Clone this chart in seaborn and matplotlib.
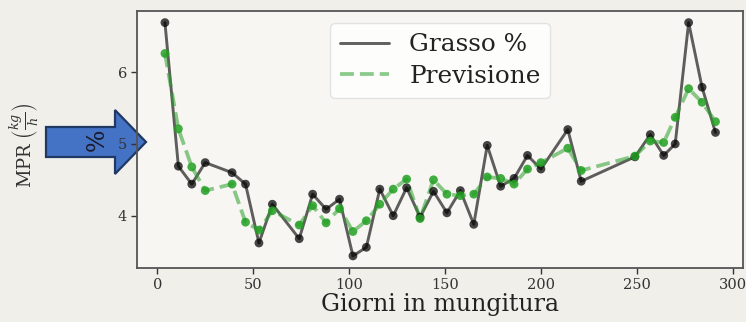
import matplotlib
matplotlib.use("Agg")
import matplotlib.pyplot as plt
import pandas as pd
import seaborn as sns
from matplotlib.patches import Polygon, Rectangle

giorni = [4, 11, 18, 25, 39, 46, 53, 60, 74, 81, 88, 95, 102, 109, 116, 123, 130, 137,
          144, 151, 158, 165, 172, 179, 186, 193, 200, 214, 221, 249, 257, 264, 270, 277, 284, 291]
grasso = [6.69, 4.69, 4.44, 4.74, 4.60, 4.44, 3.62, 4.16, 3.68, 4.30, 4.09, 4.23, 3.44, 3.56, 4.37, 4.00, 4.39, 3.98,
          4.34, 4.04, 4.35, 3.88, 4.98, 4.41, 4.52, 4.84, 4.65, 5.20, 4.48, 4.82, 5.13, 4.84, 5.00, 6.69, 5.79, 5.16]
previsione = [6.26, 5.21, 4.68, 4.35, 4.44, 3.91, 3.80, 4.07, 3.87, 4.14, 3.90, 4.10, 3.78, 3.93, 4.16, 4.37, 4.51, 3.96,
              4.50, 4.30, 4.28, 4.30, 4.54, 4.52, 4.44, 4.65, 4.74, 4.94, 4.63, 4.83, 5.04, 5.02, 5.37, 5.77, 5.58, 5.31]
xticks = [0, 50, 100, 150, 200, 250, 300]
yticks = [4, 5, 6]

df = pd.DataFrame({"giorni": giorni, "grasso": grasso, "previsione": previsione})

sns.set_style("ticks")
plt.rcParams["font.family"] = ["DejaVu Serif"]
plt.rcParams["mathtext.fontset"] = "dejavuserif"

bg = "#f1efea"
fig = plt.figure(figsize=(7.46, 3.22), dpi=100, facecolor=bg)
pos = [0.1842, 0.169, 0.8118, 0.797]
ax = fig.add_axes(pos)
# axes background drawn at figure level so the arrow can sit between it and the ticks
ax.patch.set_visible(False)
fig.add_artist(Rectangle((pos[0], pos[1]), pos[2], pos[3], transform=fig.transFigure,
                         facecolor="#f7f6f3", edgecolor="none", zorder=-2))

sns.lineplot(data=df, x="giorni", y="grasso", ax=ax, color="black", alpha=0.62,
             linewidth=2.1, label="Grasso %")
sns.scatterplot(data=df, x="giorni", y="grasso", ax=ax, color="black", alpha=0.72,
                s=40, edgecolor="none", legend=False, zorder=3)
sns.lineplot(data=df, x="giorni", y="previsione", ax=ax, color="#2ca02c", alpha=0.55,
             linewidth=2.7, linestyle="--", label="Previsione")
sns.scatterplot(data=df, x="giorni", y="previsione", ax=ax, color="#22a022", alpha=0.85,
                s=40, edgecolor="none", legend=False, zorder=3)

ax.set_xlabel("Giorni in mungitura", fontsize=17, color="#222222", labelpad=1)
ax.set_ylabel("")
ax.set_xticks(xticks)
ax.set_yticks(yticks)
ax.tick_params(labelsize=10.5, colors="#333333", length=4, width=1)
for sp in ax.spines.values():
    sp.set_color("#555555")
    sp.set_linewidth(1.3)

leg = ax.legend(loc="upper center", fontsize=17.8, frameon=True, handlelength=2.0,
                borderaxespad=0.5, labelspacing=0.35)
leg.get_frame().set_facecolor("white")
leg.get_frame().set_alpha(0.8)
leg.get_frame().set_edgecolor("#dddddd")
for t in leg.get_texts():
    t.set_color("#222222")

# left label of the cropped slide
fig.text(25 / 746, 1 - 145 / 322, r"MPR $\left(\frac{kg}{h}\right)$", rotation=90,
         ha="center", va="center", fontsize=13, color="#333333")

# blue block arrow with "%"
W, H = 746.0, 322.0
pts = [(46, 127), (115, 127), (115, 110), (146, 142), (115, 174), (115, 157), (46, 157)]
arrow = Polygon([(x / W, 1 - y / H) for x, y in pts], closed=True, transform=fig.transFigure,
                facecolor="#4472c4", edgecolor="#1f3864", linewidth=1.6, zorder=-1)
fig.add_artist(arrow)
fig.text(97 / W, 1 - 140 / H, "%", rotation=90, ha="center", va="center",
         fontsize=17, color="#1a1a2a", zorder=-0.5)

fig.savefig("out.png", dpi=100, facecolor=bg)
